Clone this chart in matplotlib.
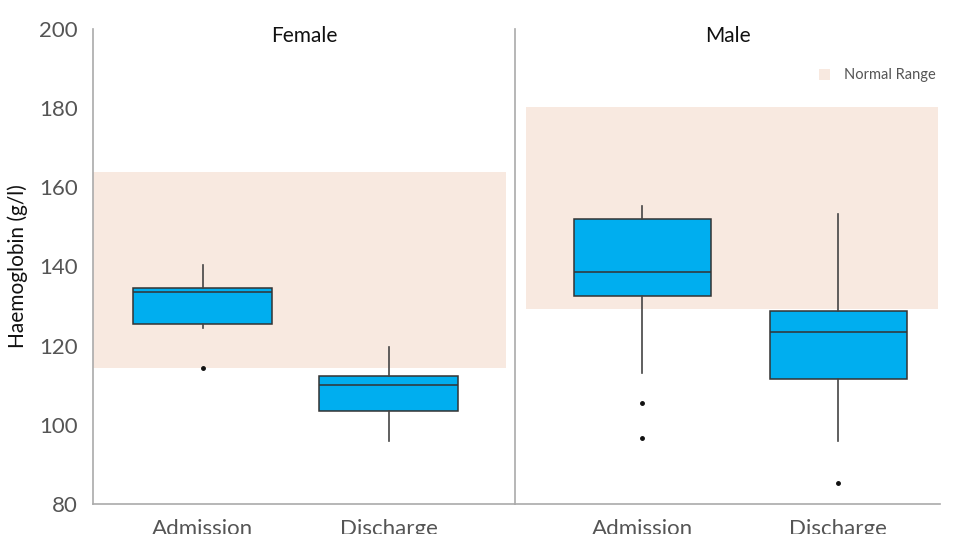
import matplotlib
matplotlib.use("Agg")
import matplotlib.pyplot as plt
from matplotlib.patches import Patch

plt.rcParams['font.family'] = ['Lato', 'DejaVu Sans']

# data (g/l)
groups = ["Female", "Male"]
stages = ["Admission", "Discharge"]
normal_range = {"Female": (114.4, 163.8), "Male": (129.3, 180.4)}

whislo = {"Female": [124.5, 96.0], "Male": [113.0, 96.0]}
q1 = {"Female": [125.4, 103.4], "Male": [132.5, 111.5]}
med = {"Female": [133.5, 110.1], "Male": [138.7, 123.4]}
q3 = {"Female": [134.5, 112.4], "Male": [152.0, 128.8]}
whishi = {"Female": [140.5, 119.6], "Male": [155.4, 153.3]}
fliers = {"Female": [[114.3], []], "Male": [[105.5, 96.7], [85.3]]}

box_color = "#00AEEF"
band_color = "#F8E9E0"
edge = "#333333"

fig = plt.figure(figsize=(9.58, 5.34), dpi=100)
bottom, height = 0.0562, 0.8895
ax1 = fig.add_axes([0.0971, bottom, 0.4405, height])
ax2 = fig.add_axes([0.5376, bottom, 0.4436, height], sharey=ax1)

settings = {
    "Female": dict(ax=ax1, xlim=(-0.59, 1.68), width=0.75, band=(0.0, 0.979)),
    "Male": dict(ax=ax2, xlim=(-0.65, 1.52), width=0.70, band=(0.026, 0.995)),
}

for g in groups:
    s = settings[g]
    ax = s["ax"]
    lo, hi = normal_range[g]
    ax.axhspan(lo, hi, xmin=s["band"][0], xmax=s["band"][1],
               color=band_color, lw=0, zorder=0)
    stats = []
    for i, st in enumerate(stages):
        stats.append(dict(whislo=whislo[g][i], q1=q1[g][i], med=med[g][i],
                          q3=q3[g][i], whishi=whishi[g][i],
                          fliers=fliers[g][i], label=st))
    ax.bxp(stats, positions=[0, 1], widths=s["width"], patch_artist=True,
           showcaps=False,
           boxprops=dict(facecolor=box_color, edgecolor=edge, linewidth=1.1),
           medianprops=dict(color=edge, linewidth=1.1),
           whiskerprops=dict(color="#444444", linewidth=1.2),
           flierprops=dict(marker="o", markersize=2.5, markerfacecolor="#111111",
                           markeredgecolor="#111111"))
    ax.set_xlim(*s["xlim"])
    ax.text(0.5, 0.985, g, transform=ax.transAxes, ha="center", va="center",
            fontsize=15, color="#111111")
    for sp in ["top", "right"]:
        ax.spines[sp].set_visible(False)
    for sp in ["left", "bottom"]:
        ax.spines[sp].set_color("#aaaaaa")
        ax.spines[sp].set_linewidth(1.2)
    ax.tick_params(axis="both", length=0, labelsize=16, labelcolor="#555555")
    ax.tick_params(axis="x", pad=11)
    ax.tick_params(axis="y", pad=11)

ax1.set_ylim(80, 200)
ax1.set_yticks([80, 100, 120, 140, 160, 180, 200])
ax1.set_ylabel("Haemoglobin (g/l)", fontsize=15, color="#111111", labelpad=8)
ax2.tick_params(axis="y", labelleft=False)

ax2.legend(handles=[Patch(facecolor=band_color, edgecolor="none", label="Normal Range")],
           loc="upper right", bbox_to_anchor=(1.02, 0.945), frameon=False,
           fontsize=10.5, handlelength=0.8, handleheight=0.8, handletextpad=0.9,
           labelcolor="#555555")

fig.savefig("out.png", dpi=100)
